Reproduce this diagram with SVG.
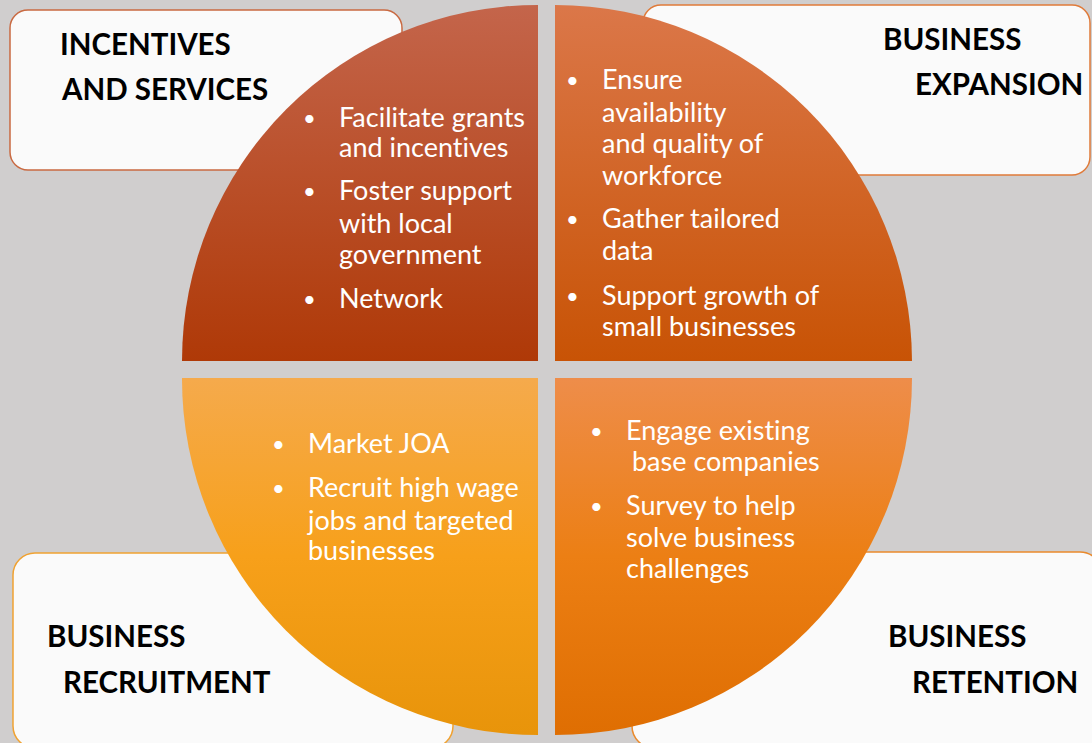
<svg xmlns="http://www.w3.org/2000/svg" width="1092" height="743" viewBox="0 0 1092 743">
<style>
.box{fill:#fafafa;stroke-width:1.5}
.hd{font-family:Lato,"Open Sans",sans-serif;font-weight:bold;font-size:29.5px;fill:#000;font-variant-ligatures:none}
.bt{font-family:Lato,"Open Sans",sans-serif;font-size:27px;fill:#fff;font-variant-ligatures:none}
.bu{font-size:22px}
</style>
<defs>
<linearGradient id="gTL" x1="0" y1="0" x2="0" y2="1"><stop offset="0" stop-color="#c4654b"/><stop offset="1" stop-color="#af3907"/></linearGradient>
<linearGradient id="gTR" x1="0" y1="0" x2="0" y2="1"><stop offset="0" stop-color="#db7749"/><stop offset="1" stop-color="#c85305"/></linearGradient>
<linearGradient id="gBL" x1="0" y1="0" x2="0" y2="1"><stop offset="0" stop-color="#f5aa4c"/><stop offset="0.5" stop-color="#f7a01a"/><stop offset="1" stop-color="#e8940a"/></linearGradient>
<linearGradient id="gBR" x1="0" y1="0" x2="0" y2="1"><stop offset="0" stop-color="#ee8d4a"/><stop offset="0.5" stop-color="#ec7f14"/><stop offset="1" stop-color="#df6e02"/></linearGradient>
</defs>
<rect width="1092" height="743" fill="#d0cece"/>
<g id="connectors"/>
<g id="incentives-services">
<rect class="box" x="10" y="10" width="392" height="160" rx="18" stroke="#c96a42"/>
<text class="hd" x="60" y="55">INCENTIVES</text>
<text class="hd" x="62" y="100">AND SERVICES</text>
<path d="M538,361 L182,361 A356,356 0 0 1 538,5 Z" fill="url(#gTL)"/>
<g class="bt">
<text class="bu" x="303" y="126">•</text>
<text x="339" y="127">Facilitate grants</text>
<text x="339" y="157">and incentives</text>
<text class="bu" x="303" y="199">•</text>
<text x="339" y="200">Foster support</text>
<text x="339" y="233">with local</text>
<text x="339" y="264">government</text>
<text class="bu" x="303" y="307">•</text>
<text x="339" y="308">Network</text>
</g>
</g>
<g id="business-expansion">
<rect class="box" x="643" y="5" width="447" height="170" rx="18" stroke="#e07b3a"/>
<text class="hd" x="883" y="50">BUSINESS</text>
<text class="hd" x="915" y="95">EXPANSION</text>
<path d="M555,361 L555,5 A357,357 0 0 1 912,361 Z" fill="url(#gTR)"/>
<g class="bt">
<text class="bu" x="566" y="88">•</text>
<text x="602" y="89">Ensure</text>
<text x="602" y="122">availability</text>
<text x="602" y="153">and quality of</text>
<text x="602" y="185">workforce</text>
<text class="bu" x="566" y="227">•</text>
<text x="602" y="228">Gather tailored</text>
<text x="602" y="260">data</text>
<text class="bu" x="566" y="304">•</text>
<text x="602" y="305">Support growth of</text>
<text x="602" y="336">small businesses</text>
</g>
</g>
<g id="business-recruitment">
<rect class="box" x="13" y="553" width="440" height="195" rx="22" stroke="#f0a232"/>
<text class="hd" x="47" y="647">BUSINESS</text>
<text class="hd" x="63" y="693">RECRUITMENT</text>
<path d="M538,378 L538,735 A356,356 0 0 1 182,378 Z" fill="url(#gBL)"/>
<g class="bt">
<text class="bu" x="272" y="452">•</text>
<text x="308" y="453">Market JOA</text>
<text class="bu" x="272" y="496">•</text>
<text x="308" y="497">Recruit high wage</text>
<text x="308" y="530">jobs and targeted</text>
<text x="308" y="560">businesses</text>
</g>
</g>
<g id="business-retention">
<rect class="box" x="632" y="552" width="470" height="196" rx="22" stroke="#ea8a2c"/>
<text class="hd" x="888" y="647">BUSINESS</text>
<text class="hd" x="912" y="693">RETENTION</text>
<path d="M555,378 L912,378 A357,357 0 0 1 555,735 Z" fill="url(#gBR)"/>
<g class="bt">
<text class="bu" x="590" y="439">•</text>
<text x="626" y="440">Engage existing</text>
<text x="632" y="471">base companies</text>
<text class="bu" x="590" y="514">•</text>
<text x="626" y="515">Survey to help</text>
<text x="626" y="547">solve business</text>
<text x="626" y="578">challenges</text>
</g>
</g>
</svg>
